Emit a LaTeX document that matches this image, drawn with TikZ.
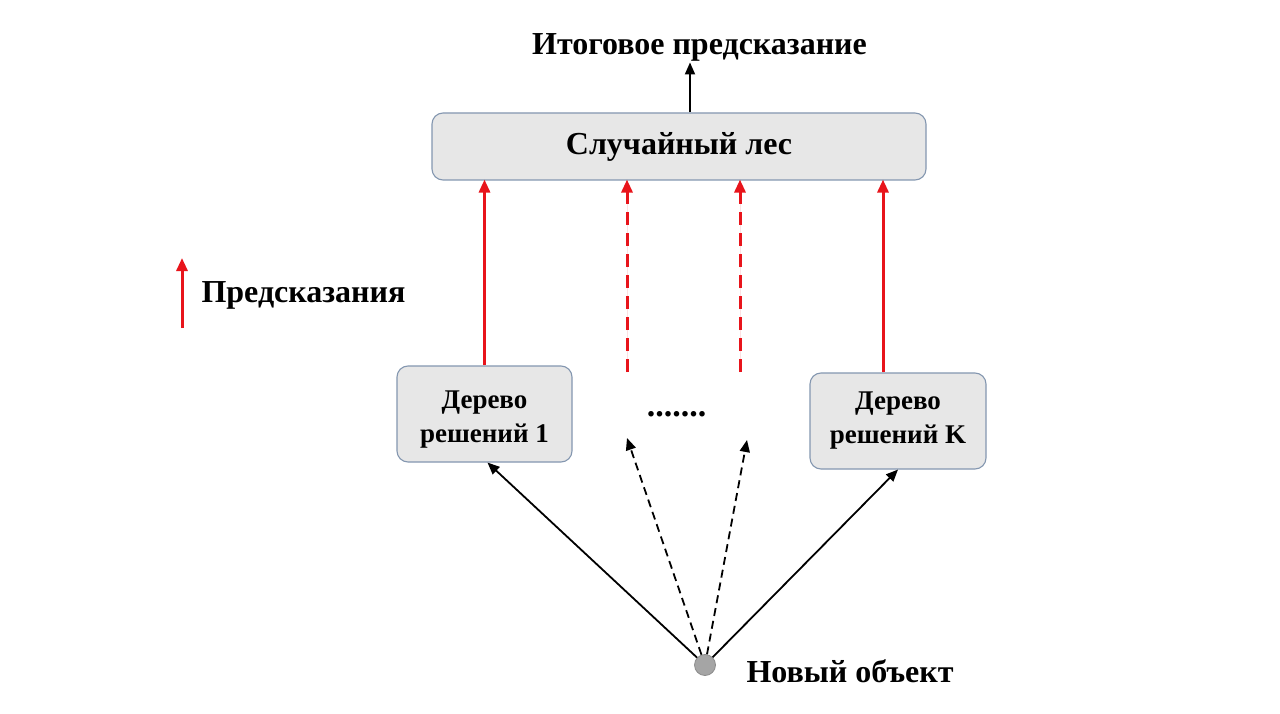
\documentclass[tikz,border=0pt]{standalone}
\usepackage{fontspec}
\setmainfont{Liberation Serif}
\usetikzlibrary{arrows.meta}
\definecolor{boxfill}{HTML}{E7E7E7}
\definecolor{boxedge}{HTML}{8497B0}
\definecolor{predred}{HTML}{E8141B}
\definecolor{dotgray}{HTML}{A5A5A5}
\begin{document}
\begin{tikzpicture}[x=1pt,y=-1pt,
  box/.style={draw=boxedge, fill=boxfill, rounded corners=11pt, line width=1.1pt, inner sep=0pt, align=center},
  bigtxt/.style={font=\bfseries\fontsize{32}{36}\selectfont},
  treetxt/.style={font=\bfseries\fontsize{27}{34}\selectfont},
  tipblk/.style={-{Triangle[length=12pt,width=10pt]}},
  tipred/.style={-{Triangle[length=13pt,width=11pt]}},
  blkarrow/.style={tipblk, line width=1.8pt, draw=black},
  blkdash/.style={blkarrow, dash pattern=on 8pt off 5pt},
  redarrow/.style={tipred, line width=3pt, draw=predred, fill=predred},
  reddash/.style={redarrow, dash pattern=on 13pt off 8pt}]
\useasboundingbox (0,0) rectangle (1280,714);
\fill[white] (0,0) rectangle (1280,714);

\node[bigtxt, anchor=base] (title) at (699.5,55) {Итоговое предсказание};
\node[box, minimum width=494pt, minimum height=67pt, font=\bfseries\fontsize{32}{36}\selectfont] (forest) at (679,146.5) {Случайный лес};
\node[box, minimum width=175pt, minimum height=96pt, treetxt] (tree1) at (484.5,414) {\rule{0pt}{28pt}Дерево\\решений 1};
\node[box, minimum width=176pt, minimum height=96pt, treetxt] (treeK) at (898,421) {Дерево\\решений K};
\node[font=\bfseries\fontsize{34}{38}\selectfont, anchor=base] (dots) at (676.5,416) {.......};
\node[circle, fill=dotgray, draw=dotgray!85!black, line width=0.8pt, minimum size=21pt, inner sep=0pt] (obj) at (705,665) {};
\node[bigtxt, anchor=base west] (objlbl) at (743,682) {Новый объект};

% legend
\coordinate (leg0) at (182,328);
\coordinate (leg1) at (182,258);
\draw[redarrow] (leg0) -- (leg1);
\node[bigtxt, anchor=base west] (leglbl) at (198,302) {Предсказания};

% final prediction arrow
\draw[blkarrow] ([xshift=11pt]forest.north) -- ++(0,-50);

% predictions
\coordinate (d1) at (627,372);
\coordinate (d2) at (740,372);
\draw[redarrow] (tree1.north) -- ([yshift=1pt]tree1.north |- forest.south);
\draw[reddash] (d1) -- ([yshift=1pt]d1 |- forest.south);
\draw[reddash] (d2) -- ([yshift=1pt]d2 |- forest.south);
\draw[redarrow] ([xshift=-15pt]treeK.north) -- ([xshift=-15pt,yshift=1pt]treeK.north |- forest.south);

% inputs
\coordinate (e1) at (627,438);
\coordinate (e2) at (747,440);
\draw[blkarrow] (obj) -- ([xshift=3pt]tree1.south);
\draw[blkarrow] (obj) -- (treeK.south);
\draw[blkdash] (obj) -- (e1);
\draw[blkdash] (obj) -- (e2);
\end{tikzpicture}
\end{document}
